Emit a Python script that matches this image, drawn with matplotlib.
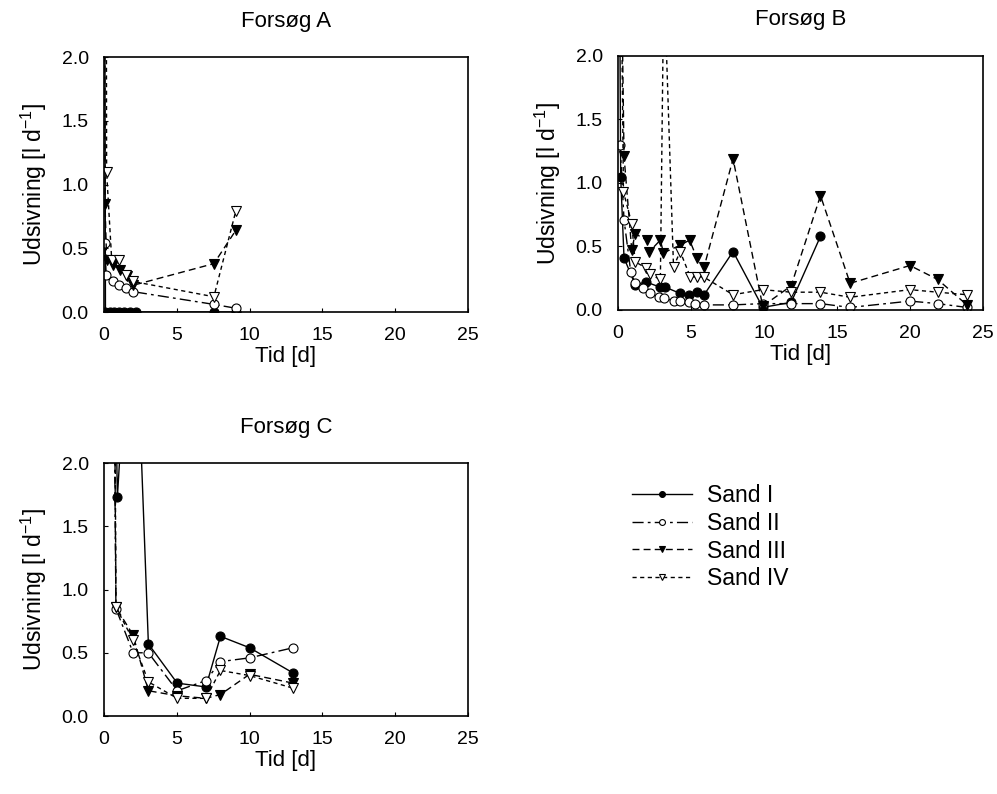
import matplotlib
matplotlib.use("Agg")
import matplotlib.pyplot as plt
from matplotlib.ticker import FormatStrFormatter

plt.rcParams["font.family"] = ["Liberation Sans", "DejaVu Sans"]
plt.rcParams["mathtext.default"] = "regular"

# --- Forsøg A ---------------------------------------------------------------
a_t1 = [0.02, 0.1, 0.4, 0.7, 1.0, 1.4, 1.8, 2.2, 7.55, 9.05]
a_v1 = [5.0, 0.0, 0.0, 0.0, 0.0, 0.0, 0.0, 0.0, 0.0, 0.0]
a_t2 = [0.05, 0.15, 0.6, 1.05, 1.5, 2.0, 7.55, 9.05]
a_v2 = [0.54, 0.29, 0.24, 0.21, 0.19, 0.16, 0.06, 0.03]
a_t3 = [0.03, 0.07, 0.18, 0.64, 1.1, 1.56, 2.0, 7.55, 9.05]
a_v3 = [4.0, 0.85, 0.41, 0.37, 0.33, 0.28, 0.21, 0.38, 0.64]
a_t4 = [0.12, 0.18, 0.53, 1.05, 1.5, 2.0, 7.55, 9.05]
a_v4 = [6.0, 1.10, 0.41, 0.41, 0.29, 0.24, 0.12, 0.79]

# --- Forsøg B ---------------------------------------------------------------
b_t1 = [0.05, 0.18, 0.41, 1.17, 1.92, 2.88, 3.23, 4.26, 4.83, 5.4, 5.9,
        7.88, 9.91, 11.86, 13.87]
b_v1 = [4.0, 1.05, 0.41, 0.20, 0.22, 0.18, 0.18, 0.13, 0.12, 0.14, 0.12,
        0.46, 0.02, 0.06, 0.58]
b_t2 = [0.14, 0.41, 0.87, 1.17, 1.74, 2.2, 2.84, 3.16, 3.85, 4.26, 4.83,
        5.29, 5.9, 7.88, 9.91, 11.86, 13.87, 15.9, 20.0, 21.9, 23.9]
b_v2 = [1.30, 0.71, 0.30, 0.21, 0.17, 0.13, 0.10, 0.095, 0.07, 0.07, 0.06,
        0.05, 0.04, 0.04, 0.05, 0.05, 0.05, 0.02, 0.07, 0.05, 0.02]
b_t3 = [0.08, 0.41, 0.94, 1.17, 1.97, 2.15, 2.9, 3.11, 4.26, 4.9, 5.4, 5.9,
        7.88, 9.91, 11.86, 13.87, 15.9, 20.0, 21.9, 23.9]
b_v3 = [4.0, 1.21, 0.47, 0.60, 0.55, 0.46, 0.55, 0.45, 0.51, 0.55, 0.41,
        0.34, 1.19, 0.03, 0.19, 0.90, 0.21, 0.35, 0.24, 0.04]
b_t4 = [0.1, 0.37, 0.94, 1.17, 1.92, 2.2, 2.9, 3.14, 3.8, 4.26, 4.95, 5.4,
        5.86, 7.88, 9.91, 11.86, 13.87, 15.9, 20.0, 21.9, 23.9]
b_v4 = [4.0, 0.93, 0.68, 0.38, 0.33, 0.28, 0.24, 2.65, 0.34, 0.46, 0.26,
        0.26, 0.26, 0.12, 0.16, 0.14, 0.14, 0.10, 0.16, 0.14, 0.12]

# --- Forsøg C ---------------------------------------------------------------
c_t1 = [0.6, 0.92, 2.0, 3.05, 5.03, 7.0, 8.0, 10.0, 13.0]
c_v1 = [4.0, 1.73, 3.8, 0.57, 0.26, 0.23, 0.63, 0.54, 0.34]
c_t2 = [0.6, 0.82, 2.0, 3.05, 5.03, 7.0, 8.0, 10.0, 13.0]
c_v2 = [4.0, 0.85, 0.50, 0.50, 0.20, 0.28, 0.43, 0.46, 0.54]
c_t3 = [0.65, 0.82, 2.0, 3.05, 5.03, 7.0, 8.0, 10.0, 13.0]
c_v3 = [4.0, 0.86, 0.64, 0.20, 0.16, 0.14, 0.17, 0.33, 0.26]
c_t4 = [0.7, 0.82, 2.0, 3.05, 5.03, 7.0, 8.0, 10.0, 13.0]
c_v4 = [4.0, 0.86, 0.60, 0.27, 0.14, 0.14, 0.36, 0.32, 0.22]

labels = ["Sand I", "Sand II", "Sand III", "Sand IV"]
styles = [
    dict(linestyle="-", marker="o", mfc="black"),
    dict(linestyle=(0, (8, 3, 2, 3)), marker="o", mfc="white"),
    dict(linestyle=(0, (5, 3)), marker="v", mfc="black"),
    dict(linestyle=(0, (3, 2.5)), marker="v", mfc="white"),
]

panels = [
    ("Forsøg A", [0.1043, 0.607, 0.365, 0.321],
     [(a_t1, a_v1), (a_t2, a_v2), (a_t3, a_v3), (a_t4, a_v4)]),
    ("Forsøg B", [0.6199, 0.6096, 0.366, 0.320],
     [(b_t1, b_v1), (b_t2, b_v2), (b_t3, b_v3), (b_t4, b_v4)]),
    ("Forsøg C", [0.1043, 0.0982, 0.365, 0.3186],
     [(c_t1, c_v1), (c_t2, c_v2), (c_t3, c_v3), (c_t4, c_v4)]),
]

fig = plt.figure(figsize=(9.97, 7.94), dpi=100)

handles = []
for title, rect, series in panels:
    ax = fig.add_axes(rect)
    handles = []
    for (t, v), st in zip(series, styles):
        (ln,) = ax.plot(t, v, color="black", lw=1.0, ms=6.5, mec="black",
                        mew=0.8, **st)
        handles.append(ln)
    ax.set_xlim(0, 25)
    ax.set_ylim(0, 2.0)
    ax.set_xticks([0, 5, 10, 15, 20, 25])
    ax.set_yticks([0, 0.5, 1.0, 1.5, 2.0])
    ax.yaxis.set_major_formatter(FormatStrFormatter("%.1f"))
    ax.tick_params(direction="in", length=3, labelsize=14, width=0.8)
    ax.tick_params(axis="x", pad=11)
    ax.tick_params(axis="y", pad=11)
    for sp in ax.spines.values():
        sp.set_linewidth(1.2)
    ax.set_title(title, fontsize=16, pad=22)
    ax.set_xlabel("Tid [d]", fontsize=16, labelpad=1)
    ax.set_ylabel("Udsivning [l d$^{-1}$]", fontsize=16.5, labelpad=9)

fig.legend(handles, labels, loc="upper left", bbox_to_anchor=(0.634, 0.39),
           frameon=False, fontsize=16.5, handlelength=2.6, markerscale=0.65,
           labelspacing=0.2, handletextpad=0.65, borderpad=0,
           borderaxespad=0)

fig.savefig("out.png", dpi=100)
